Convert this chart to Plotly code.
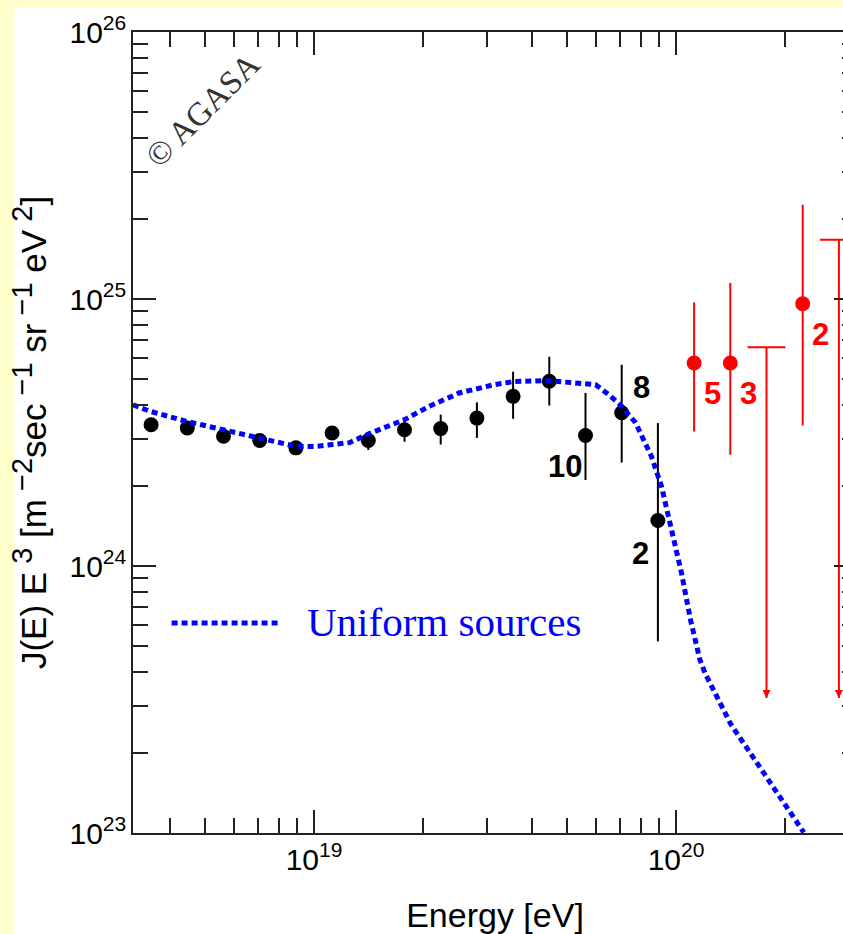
import numpy as np
import plotly.graph_objects as go

# ---------------- data ----------------
# AGASA spectrum, black points (log10 of energy in eV)
agasa_log_E = [18.55, 18.65, 18.75, 18.85, 18.95, 19.05, 19.15, 19.25,
               19.35, 19.45, 19.55, 19.65, 19.75, 19.85, 19.95]
agasa_J = [3.38e24, 3.29e24, 3.06e24, 2.95e24, 2.77e24, 3.15e24, 2.95e24, 3.24e24,
           3.27e24, 3.58e24, 4.32e24, 4.92e24, 3.08e24, 3.75e24, 1.48e24]
agasa_J_hi = [3.50e24, 3.41e24, 3.18e24, 3.07e24, 2.90e24, 3.30e24, 3.16e24, 3.59e24,
              3.69e24, 4.10e24, 5.34e24, 6.08e24, 4.45e24, 5.67e24, 3.43e24]
agasa_J_lo = [3.27e24, 3.18e24, 2.95e24, 2.84e24, 2.65e24, 3.01e24, 2.72e24, 2.92e24,
              2.85e24, 3.02e24, 3.56e24, 3.99e24, 2.10e24, 2.44e24, 5.22e23]
agasa_counts = ["", "", "", "", "", "", "", "", "", "", "", "", "10", "8", "2"]

# super-GZK events, red points
red_log_E = [20.05, 20.15, 20.35]
red_J = [5.76e24, 5.76e24, 9.60e24]
red_J_hi = [9.71e24, 1.148e25, 2.255e25]
red_J_lo = [3.19e24, 2.61e24, 3.36e24]
red_counts = ["5", "3", "2"]

# upper limits (red arrows)
ul_log_E = [20.25, 20.45]
ul_J = [6.59e24, 1.667e25]
ul_arrow_to = 3.2e23

# "Uniform sources" model curve
model_log_E = [18.50, 18.548, 18.647, 18.749, 18.850, 18.950, 19.005, 19.098, 19.153,
               19.208, 19.250, 19.318, 19.401, 19.497, 19.552, 19.648, 19.731, 19.778,
               19.814, 19.850, 19.888, 19.932, 19.960, 19.987, 20.015, 20.040, 20.066,
               20.080, 20.117, 20.152, 20.199, 20.245, 20.290, 20.336, 20.353]
model_log_J = [24.604, 24.579, 24.542, 24.510, 24.481, 24.448, 24.448, 24.462, 24.496,
               24.523, 24.548, 24.598, 24.648, 24.679, 24.691, 24.694, 24.687, 24.679,
               24.642, 24.598, 24.537, 24.411, 24.298, 24.136, 23.975, 23.799, 23.649,
               23.599, 23.499, 23.406, 23.312, 23.218, 23.125, 23.039, 23.002]

# ---------------- styles ----------------
AX = "#222222"
BLUE = "#0000FF"
RED = "#FF0000"
SANS = "Liberation Sans, Arial, sans-serif"
SERIF = "Liberation Serif, Times New Roman, serif"
agasa_label_shift = {12: (-21, -31), 13: (20, 25), 14: (-17, -33)}
red_label_shift = (18, -31)

agasa_E = 10 ** np.array(agasa_log_E)
red_E = 10 ** np.array(red_log_E)
ul_E = 10 ** np.array(ul_log_E)
model_E = 10 ** np.array(model_log_E)
model_J = 10 ** np.array(model_log_J)

fig = go.Figure()

fig.add_trace(go.Scatter(
    x=agasa_E, y=agasa_J, mode="markers",
    marker=dict(color="black", size=15),
    error_y=dict(type="data", symmetric=False,
                 array=np.array(agasa_J_hi) - np.array(agasa_J),
                 arrayminus=np.array(agasa_J) - np.array(agasa_J_lo),
                 color="black", thickness=2, width=0),
    name="AGASA", showlegend=False))

fig.add_trace(go.Scatter(
    x=red_E, y=red_J, mode="markers",
    marker=dict(color=RED, size=15),
    error_y=dict(type="data", symmetric=False,
                 array=np.array(red_J_hi) - np.array(red_J),
                 arrayminus=np.array(red_J) - np.array(red_J_lo),
                 color=RED, thickness=2, width=0),
    name="AGASA E>10^20", showlegend=False))

fig.add_trace(go.Scatter(
    x=ul_E, y=ul_J, mode="markers",
    marker=dict(symbol="line-ew-open", size=27, color=RED, line=dict(color=RED, width=2)),
    error_y=dict(type="data", symmetric=False,
                 array=np.zeros(len(ul_J)),
                 arrayminus=np.array(ul_J) - ul_arrow_to,
                 color=RED, thickness=2, width=0),
    name="upper limits", showlegend=False))

fig.add_trace(go.Scatter(
    x=ul_E, y=[ul_arrow_to] * len(ul_E), mode="markers",
    marker=dict(symbol="arrow-down", size=8, color=RED),
    showlegend=False, hoverinfo="skip"))

fig.add_trace(go.Scatter(
    x=model_E, y=model_J, mode="lines",
    line=dict(color=BLUE, width=5, dash="6px,4px"),
    name="Uniform sources", showlegend=False))

annotations = []
for i, txt in enumerate(agasa_counts):
    if txt:
        dx, dy = agasa_label_shift[i]
        annotations.append(dict(x=agasa_log_E[i], y=np.log10(agasa_J[i]), xref="x", yref="y",
                                text=f"<b>{txt}</b>", showarrow=False, xshift=dx, yshift=dy,
                                font=dict(family=SANS, size=31, color="black")))
for i, txt in enumerate(red_counts):
    annotations.append(dict(x=red_log_E[i], y=np.log10(red_J[i]), xref="x", yref="y",
                            text=f"<b>{txt}</b>", showarrow=False,
                            xshift=red_label_shift[0], yshift=red_label_shift[1],
                            font=dict(family=SANS, size=31, color=RED)))

# legend (drawn by hand)
annotations.append(dict(x=0.237, y=0.264, xref="paper", yref="paper", xanchor="left",
                        yanchor="middle", text="Uniform sources", showarrow=False,
                        font=dict(family=SERIF, size=41, color=BLUE)))
# copyright stamp
annotations.append(dict(x=0.0964, y=0.9026, xref="paper", yref="paper", text="© AGASA",
                        xanchor="center", yanchor="middle",
                        showarrow=False, textangle=-45,
                        font=dict(family=SERIF, size=33, color="#333333")))

shapes = [
    dict(type="rect", xref="paper", yref="paper", x0=-0.164, x1=1.2, y0=-0.2, y1=1.03,
         fillcolor="white", line=dict(width=0), layer="below"),
    dict(type="line", xref="paper", yref="paper", x0=0.0533, x1=0.2048, y0=0.2622, y1=0.2622,
         line=dict(color=BLUE, width=5, dash="6px,4px")),
]

axis_common = dict(
    type="log", dtick=1, exponentformat="power", showexponent="all",
    ticks="inside", ticklen=23, tickwidth=2, tickcolor=AX,
    showline=True, linewidth=2, linecolor=AX, mirror="ticks",
    showgrid=False, zeroline=False,
    minor=dict(ticks="inside", ticklen=15, tickwidth=2, tickcolor=AX, dtick="D1", showgrid=False),
    tickfont=dict(family=SANS, size=24, color="black"),
)


def sup(s):
    return f"<sup><span style='font-size:29px'>{s}</span></sup>"


ytitle = ("J(E) E" + sup(" 3") + " [m" + sup(" −2") + "sec" + sup(" −1") +
          " sr" + sup(" −1") + " eV" + sup(" 2") + "]")

fig.update_layout(
    width=862, height=934,
    margin=dict(l=133, r=3, t=32, b=101),
    paper_bgcolor="#FFFFCC", plot_bgcolor="white",
    xaxis=dict(range=[18.5, 20.5],
               title=dict(text="Energy [eV]", font=dict(family=SANS, size=34, color="black"), standoff=28),
               **axis_common),
    yaxis=dict(range=[23, 26],
               title=dict(text=ytitle, font=dict(family=SANS, size=35, color="black"), standoff=12),
               **axis_common),
    annotations=annotations, shapes=shapes,
    showlegend=False,
)

fig.write_html("out.html",
               post_script="document.body.style.margin='0';document.body.style.overflow='hidden';")
